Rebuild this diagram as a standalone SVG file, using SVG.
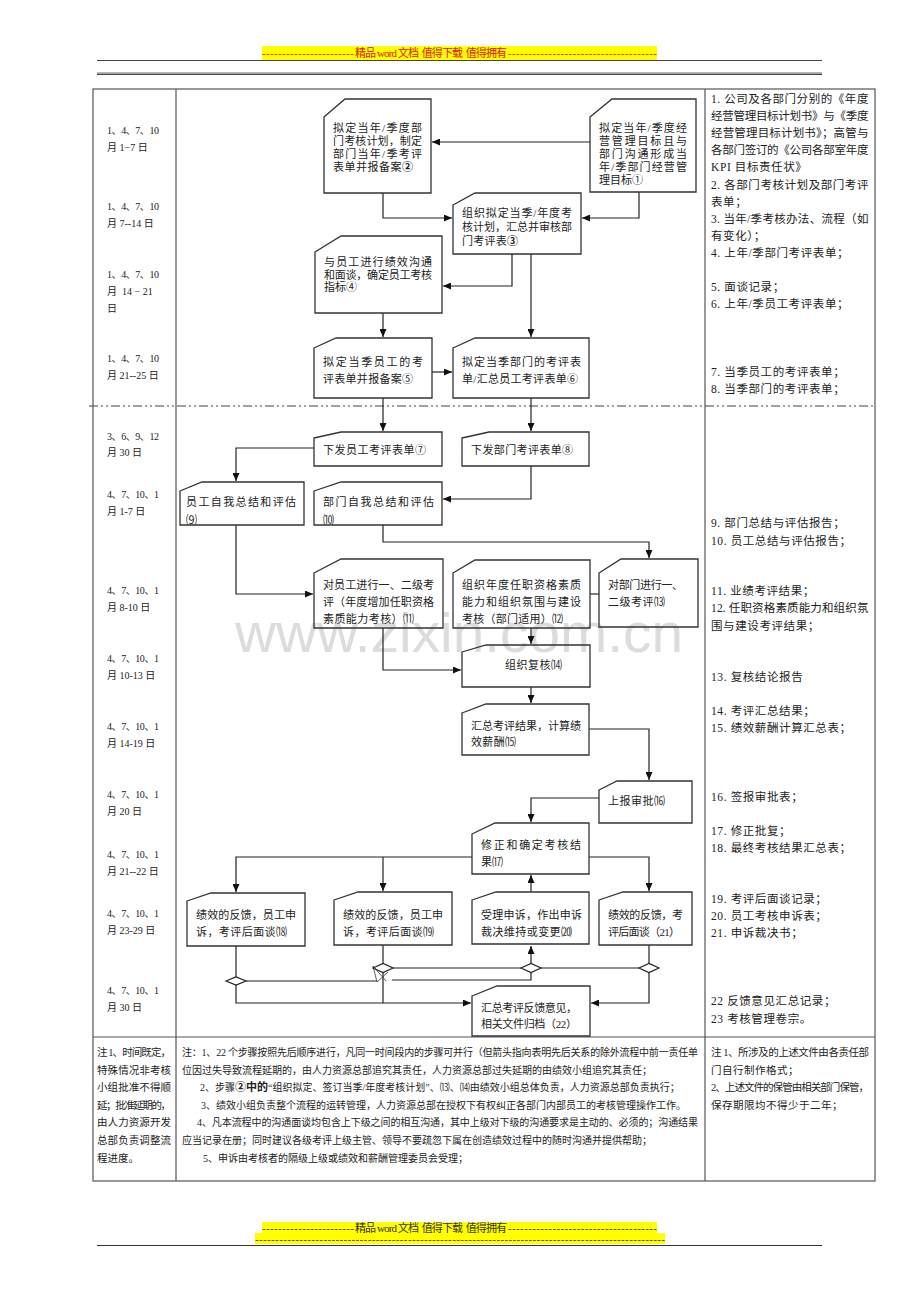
<svg xmlns="http://www.w3.org/2000/svg" width="920" height="1302" viewBox="0 0 920 1302">
<style>
.bx{fill:none;stroke:#333;stroke-width:1.3}
.cn{fill:none;stroke:#222;stroke-width:1.2}
.tl{fill:none;stroke:#555;stroke-width:1.2}
.t{font-family:"Liberation Serif","Noto Sans CJK SC",serif;font-size:11px;fill:#222}
.lc{font-family:"Liberation Serif","Noto Sans CJK SC",serif;font-size:10px;fill:#222}
.rc{font-family:"Liberation Serif","Noto Sans CJK SC",serif;font-size:11.5px;fill:#222;letter-spacing:0.6px}
.ft{font-family:"Liberation Serif","Noto Sans CJK SC",serif;font-size:10.5px;fill:#222}
.fm{font-family:"Liberation Serif","Noto Sans CJK SC",serif;font-size:10px;fill:#222}
.hd{font-family:"Liberation Serif","Noto Sans CJK SC",serif;font-size:11px}
.wm{font-family:"Liberation Sans",Arial,sans-serif;font-size:56px;fill:#dcdcdc}
</style>
<defs>
<marker id="ah" markerUnits="userSpaceOnUse" markerWidth="8" markerHeight="7" refX="8" refY="3.5" orient="auto">
<path d="M0,0 L8,3.5 L0,7 Z" fill="#111"/>
</marker>
<clipPath id="c9"><rect x="180" y="482" width="124" height="43"/></clipPath>
<clipPath id="c10"><rect x="314" y="482" width="128" height="43"/></clipPath>
</defs>
<rect width="920" height="1302" fill="#fff"/>

<g id="header-top">
<rect x="262" y="46" width="395" height="14" fill="#ffff00"/>
<text class="hd" x="262" y="57" fill="#e01010" textLength="92" lengthAdjust="spacing">-----------------------</text>
<text class="hd" x="355" y="57" fill="#e01010" textLength="152" lengthAdjust="spacing" xml:space="preserve">精品 word 文档  值得下载  值得拥有</text>
<text class="hd" x="508" y="57" fill="#e01010" textLength="149" lengthAdjust="spacing">-------------------------------------</text>
<line x1="97" y1="60.5" x2="822" y2="60.5" stroke="#444" stroke-width="1"/>
<rect x="97" y="72.3" width="725" height="1.6" fill="#999"/>
<line x1="97" y1="74.5" x2="822" y2="74.5" stroke="#444" stroke-width="1"/>
</g>

<text class="wm" x="235" y="652" textLength="448" lengthAdjust="spacingAndGlyphs">www.zixin.com.cn</text>

<g id="table">
<rect class="tl" x="93" y="89" width="782" height="1092"/>
<line class="tl" x1="176" y1="89" x2="176" y2="1181"/>
<line class="tl" x1="705" y1="89" x2="705" y2="1181"/>
<line class="tl" x1="93" y1="1037" x2="875" y2="1037"/>
<line x1="89" y1="406" x2="875" y2="406" stroke="#444" stroke-width="1.2" stroke-dasharray="9 3 2 3 2 3"/>
</g>

<g id="left-column">
<text class="lc" x="107" y="134" textLength="52" lengthAdjust="spacing">1、4、7、10</text>
<text class="lc" x="107" y="151">月 1−7 日</text>
<text class="lc" x="107" y="210" textLength="52" lengthAdjust="spacing">1、4、7、10</text>
<text class="lc" x="107" y="227">月 7--14 日</text>
<text class="lc" x="107" y="278" textLength="52" lengthAdjust="spacing">1、4、7、10</text>
<text class="lc" x="107" y="295" xml:space="preserve">月  14 − 21</text>
<text class="lc" x="107" y="312">日</text>
<text class="lc" x="107" y="362" textLength="52" lengthAdjust="spacing">1、4、7、10</text>
<text class="lc" x="107" y="379">月 21--25 日</text>
<text class="lc" x="107" y="440" textLength="52" lengthAdjust="spacing">3、6、9、12</text>
<text class="lc" x="107" y="456">月 30 日</text>
<text class="lc" x="107" y="498" textLength="52" lengthAdjust="spacing">4、7、10、1</text>
<text class="lc" x="107" y="515">月 1-7 日</text>
<text class="lc" x="107" y="594" textLength="52" lengthAdjust="spacing">4、7、10、1</text>
<text class="lc" x="107" y="611">月 8-10 日</text>
<text class="lc" x="107" y="662" textLength="52" lengthAdjust="spacing">4、7、10、1</text>
<text class="lc" x="107" y="679">月 10-13 日</text>
<text class="lc" x="107" y="730" textLength="52" lengthAdjust="spacing">4、7、10、1</text>
<text class="lc" x="107" y="747">月 14-19 日</text>
<text class="lc" x="107" y="798" textLength="52" lengthAdjust="spacing">4、7、10、1</text>
<text class="lc" x="107" y="815">月 20 日</text>
<text class="lc" x="107" y="858" textLength="52" lengthAdjust="spacing">4、7、10、1</text>
<text class="lc" x="107" y="875">月 21--22 日</text>
<text class="lc" x="107" y="917" textLength="52" lengthAdjust="spacing">4、7、10、1</text>
<text class="lc" x="107" y="934">月 23-29 日</text>
<text class="lc" x="107" y="994" textLength="52" lengthAdjust="spacing">4、7、10、1</text>
<text class="lc" x="107" y="1011">月 30 日</text>
</g>

<g id="right-column">
<text class="rc" x="711" y="103" textLength="158" lengthAdjust="spacing">1. 公司及各部门分别的《年度</text>
<text class="rc" x="711" y="120" textLength="158" lengthAdjust="spacing">经营管理目标计划书》与《季度</text>
<text class="rc" x="711" y="137" textLength="158" lengthAdjust="spacing">经营管理目标计划书》；高管与</text>
<text class="rc" x="711" y="154" textLength="158" lengthAdjust="spacing">各部门签订的《公司各部室年度</text>
<text class="rc" x="711" y="171" letter-spacing="0">KPI 目标责任状》</text>
<text class="rc" x="711" y="189" textLength="158" lengthAdjust="spacing">2. 各部门考核计划及部门考评</text>
<text class="rc" x="711" y="206">表单；</text>
<text class="rc" x="711" y="223" textLength="158" lengthAdjust="spacing">3. 当年/季考核办法、流程（如</text>
<text class="rc" x="711" y="240">有变化）；</text>
<text class="rc" x="711" y="257">4. 上年/季部门考评表单；</text>
<text class="rc" x="711" y="291">5. 面谈记录；</text>
<text class="rc" x="711" y="308">6. 上年/季员工考评表单；</text>
<text class="rc" x="711" y="376">7. 当季员工的考评表单；</text>
<text class="rc" x="711" y="393">8. 当季部门的考评表单；</text>
<text class="rc" x="711" y="527">9. 部门总结与评估报告；</text>
<text class="rc" x="711" y="545">10. 员工总结与评估报告；</text>
<text class="rc" x="711" y="595">11. 业绩考评结果；</text>
<text class="rc" x="711" y="612" textLength="158" lengthAdjust="spacing">12. 任职资格素质能力和组织氛</text>
<text class="rc" x="711" y="630">围与建设考评结果；</text>
<text class="rc" x="711" y="681">13. 复核结论报告</text>
<text class="rc" x="711" y="715">14. 考评汇总结果；</text>
<text class="rc" x="711" y="732">15. 绩效薪酬计算汇总表；</text>
<text class="rc" x="711" y="801">16. 签报审批表；</text>
<text class="rc" x="711" y="835">17. 修正批复；</text>
<text class="rc" x="711" y="852">18. 最终考核结果汇总表；</text>
<text class="rc" x="711" y="903">19. 考评后面谈记录；</text>
<text class="rc" x="711" y="920">20. 员工考核申诉表；</text>
<text class="rc" x="711" y="937">21. 申诉裁决书；</text>
<text class="rc" x="711" y="1005" letter-spacing="0.3">22 反馈意见汇总记录；</text>
<text class="rc" x="711" y="1023" letter-spacing="0.3">23 考核管理卷宗。</text>
</g>

<g id="connectors">
<path class="cn" d="M590,142 H432" marker-end="url(#ah)"/>
<path class="cn" d="M383,193 V218 H452" marker-end="url(#ah)"/>
<path class="cn" d="M639,192 V218 H582" marker-end="url(#ah)"/>
<path class="cn" d="M512,254 V286 H443" marker-end="url(#ah)"/>
<path class="cn" d="M531,254 V337" marker-end="url(#ah)"/>
<path class="cn" d="M383,313 V337" marker-end="url(#ah)"/>
<path class="cn" d="M432,372 H452" marker-end="url(#ah)"/>
<path class="cn" d="M383,398 V431" marker-end="url(#ah)"/>
<path class="cn" d="M531,398 V431" marker-end="url(#ah)"/>
<path class="cn" d="M314,448 H236 V481" marker-end="url(#ah)"/>
<path class="cn" d="M531,466 V499 H443" marker-end="url(#ah)"/>
<path class="cn" d="M383,525 V542 H649 V558" marker-end="url(#ah)"/>
<path class="cn" d="M236,525 V594 H313" marker-end="url(#ah)"/>
<path class="cn" d="M590,594 H599"/>
<path class="cn" d="M531,628 V644" marker-end="url(#ah)"/>
<path class="cn" d="M383,628 V670 H461" marker-end="url(#ah)"/>
<path class="cn" d="M531,687 V703" marker-end="url(#ah)"/>
<path class="cn" d="M589,729 H649 V780" marker-end="url(#ah)"/>
<path class="cn" d="M599,798 H531 V822" marker-end="url(#ah)"/>
<path class="cn" d="M472,857 H236 V892" marker-end="url(#ah)"/>
<path class="cn" d="M383,857 V891" marker-end="url(#ah)"/>
<path class="cn" d="M589,857 H649 V891" marker-end="url(#ah)"/>
<path class="cn" d="M531,892 V875" marker-end="url(#ah)"/>
<path class="cn" d="M236,946 V977"/>
<path class="cn" d="M236,985 V1003 H471" marker-end="url(#ah)"/>
<path class="cn" d="M246,981 H377"/>
<path class="cn" d="M383,945 V963"/>
<path class="cn" d="M383,972 V1003"/>
<path class="cn" d="M393,968 H521"/>
<path class="cn" d="M531,963 V946" marker-end="url(#ah)"/>
<path class="cn" d="M541,968 H639"/>
<path class="cn" d="M649,945 V963"/>
<path class="cn" d="M649,972 V1003 H591" marker-end="url(#ah)"/>
<path class="cn" d="M392,980 H531 V973"/>
<path fill="none" stroke="#333" stroke-width="0.8" d="M373,966 L386,981 M373,966 L377,982 M377,982 L388,972"/>
<path class="cn" fill="#fff" d="M226,981 L236,977 L246,981 L236,985 Z"/>
<path class="cn" fill="#fff" d="M373,968 L383,963.5 L393,968 L383,972.5 Z"/>
<path class="cn" fill="#fff" d="M521,968 L531,963.5 L541,968 L531,972.5 Z"/>
<path class="cn" fill="#fff" d="M639,968 L649,963.5 L659,968 L649,972.5 Z"/>
</g>

<g id="n1">
<path class="bx" d="M590,117 L612,99 H696 V192 H590 Z"/>
<text class="t" x="599" y="132" textLength="88" lengthAdjust="spacing">拟定当年/季度经</text>
<text class="t" x="599" y="145" textLength="88" lengthAdjust="spacing">营管理目标且与</text>
<text class="t" x="599" y="158" textLength="88" lengthAdjust="spacing">部门沟通形成当</text>
<text class="t" x="599" y="171" textLength="88" lengthAdjust="spacing">年/季部门经营管</text>
<text class="t" x="599" y="184" textLength="44" lengthAdjust="spacing">理目标①</text>
</g>
<g id="n2">
<path class="bx" d="M324,117 L345,99 H431 V193 H324 Z"/>
<text class="t" x="333" y="132" textLength="89" lengthAdjust="spacing">拟定当年/季度部</text>
<text class="t" x="333" y="145" textLength="89" lengthAdjust="spacing">门考核计划，制定</text>
<text class="t" x="333" y="158" textLength="89" lengthAdjust="spacing">部门当年/季考评</text>
<text class="t" x="333" y="171" textLength="80" lengthAdjust="spacing">表单并报备案<tspan font-weight="bold">②</tspan></text>
</g>
<g id="n3">
<path class="bx" d="M453,205 L475,193 H581 V254 H453 Z"/>
<text class="t" x="462" y="217" textLength="110" lengthAdjust="spacing">组织拟定当季/年度考</text>
<text class="t" x="462" y="231" textLength="110" lengthAdjust="spacing">核计划，汇总并审核部</text>
<text class="t" x="462" y="245" textLength="56" lengthAdjust="spacing">门考评表<tspan font-weight="bold">③</tspan></text>
</g>
<g id="n4">
<path class="bx" d="M315,252 L341,236 H442 V313 H315 Z"/>
<text class="t" x="324" y="266" textLength="108" lengthAdjust="spacing">与员工进行绩效沟通</text>
<text class="t" x="324" y="279" textLength="108" lengthAdjust="spacing">和面谈，确定员工考核</text>
<text class="t" x="324" y="291" textLength="33" lengthAdjust="spacing">指标④</text>
</g>
<g id="n5">
<path class="bx" d="M314,348 L336,338 H432 V398 H314 Z"/>
<text class="t" x="323" y="366" textLength="100" lengthAdjust="spacing">拟定当季员工的考</text>
<text class="t" x="323" y="383" textLength="90" lengthAdjust="spacing">评表单并报备案⑤</text>
</g>
<g id="n6">
<path class="bx" d="M453,348 L475,338 H589 V398 H453 Z"/>
<text class="t" x="462" y="366" textLength="119" lengthAdjust="spacing">拟定当季部门的考评表</text>
<text class="t" x="462" y="383" textLength="116" lengthAdjust="spacing">单/汇总员工考评表单⑥</text>
</g>
<g id="n7">
<path class="bx" d="M314,438 L341,432 H442 V466 H314 Z"/>
<text class="t" x="323" y="454" textLength="103" lengthAdjust="spacing">下发员工考评表单⑦</text>
</g>
<g id="n8">
<path class="bx" d="M462,438 L489,432 H589 V466 H462 Z"/>
<text class="t" x="471" y="454" textLength="102" lengthAdjust="spacing">下发部门考评表单⑧</text>
</g>
<g id="n9">
<path class="bx" d="M180,491 L202,482 H304 V525 H180 Z"/>
<text class="t" x="186" y="506" textLength="110" lengthAdjust="spacing">员工自我总结和评估</text>
<text class="t" x="186" y="524" clip-path="url(#c9)">⑼</text>
</g>
<g id="n10">
<path class="bx" d="M314,491 L341,482 H442 V525 H314 Z"/>
<text class="t" x="323" y="506" textLength="111" lengthAdjust="spacing">部门自我总结和评估</text>
<text class="t" x="323" y="524" clip-path="url(#c10)">⑽</text>
</g>
<g id="n11">
<path class="bx" d="M314,573 L341,559 H443 V628 H314 Z"/>
<text class="t" x="323" y="589" textLength="111" lengthAdjust="spacing">对员工进行一、二级考</text>
<text class="t" x="323" y="606" textLength="111" lengthAdjust="spacing">评（年度增加任职资格</text>
<text class="t" x="323" y="623" textLength="91" lengthAdjust="spacing">素质能力考核）⑾</text>
</g>
<g id="n12">
<path class="bx" d="M453,573 L475,560 H590 V628 H453 Z"/>
<text class="t" x="462" y="589" textLength="119" lengthAdjust="spacing">组织年度任职资格素质</text>
<text class="t" x="462" y="606" textLength="119" lengthAdjust="spacing">能力和组织氛围与建设</text>
<text class="t" x="462" y="623" textLength="101" lengthAdjust="spacing">考核（部门适用）⑿</text>
</g>
<g id="n13">
<path class="bx" d="M599,573 L621,559 H698 V627 H599 Z"/>
<text class="t" x="608" y="589" textLength="75" lengthAdjust="spacing">对部门进行一、</text>
<text class="t" x="608" y="606" textLength="57" lengthAdjust="spacing">二级考评⒀</text>
</g>
<g id="n14">
<path class="bx" d="M462,652 L486,645 H590 V687 H462 Z"/>
<text class="t" x="505" y="669" textLength="57" lengthAdjust="spacing">组织复核⒁</text>
</g>
<g id="n15">
<path class="bx" d="M462,713 L486,704 H589 V755 H462 Z"/>
<text class="t" x="471" y="730" textLength="110" lengthAdjust="spacing">汇总考评结果，计算绩</text>
<text class="t" x="471" y="746" textLength="45" lengthAdjust="spacing">效薪酬⒂</text>
</g>
<g id="n16">
<path class="bx" d="M599,790 L617,781 H692 V823 H599 Z"/>
<text class="t" x="608" y="805" textLength="57" lengthAdjust="spacing">上报审批⒃</text>
</g>
<g id="n17">
<path class="bx" d="M472,834 L495,823 H589 V874 H472 Z"/>
<text class="t" x="481" y="849" textLength="100" lengthAdjust="spacing">修正和确定考核结</text>
<text class="t" x="481" y="866">果⒄</text>
</g>
<g id="n18">
<path class="bx" d="M187,901 L211,893 H305 V946 H187 Z"/>
<text class="t" x="196" y="919" textLength="100" lengthAdjust="spacing">绩效的反馈，员工申</text>
<text class="t" x="196" y="936" textLength="91" lengthAdjust="spacing">诉，考评后面谈⒅</text>
</g>
<g id="n19">
<path class="bx" d="M334,900 L358,892 H452 V945 H334 Z"/>
<text class="t" x="343" y="919" textLength="100" lengthAdjust="spacing">绩效的反馈，员工申</text>
<text class="t" x="343" y="936" textLength="91" lengthAdjust="spacing">诉，考评后面谈⒆</text>
</g>
<g id="n20">
<path class="bx" d="M472,900 L496,892 H589 V944 H472 Z"/>
<text class="t" x="481" y="919" textLength="101" lengthAdjust="spacing">受理申诉，作出申诉</text>
<text class="t" x="481" y="936" textLength="91" lengthAdjust="spacing">裁决维持或变更⒇</text>
</g>
<g id="n21">
<path class="bx" d="M599,900 L623,892 H692 V945 H599 Z"/>
<text class="t" x="608" y="919" textLength="75" lengthAdjust="spacing">绩效的反馈，考</text>
<text class="t" x="608" y="936" textLength="72" lengthAdjust="spacing">评后面谈（21）</text>
</g>
<g id="n22">
<path class="bx" d="M472,996 L497,986 H590 V1036 H472 Z"/>
<text class="t" x="481" y="1012" textLength="96" lengthAdjust="spacing">汇总考评反馈意见，</text>
<text class="t" x="481" y="1028" textLength="96" lengthAdjust="spacing">相关文件归档（22）</text>
</g>

<g id="footer-notes">
<text class="ft" x="97" y="1056" textLength="74" lengthAdjust="spacing">注 1、时间既定，</text>
<text class="ft" x="97" y="1074" textLength="74" lengthAdjust="spacing">特殊情况非考核</text>
<text class="ft" x="97" y="1091" textLength="74" lengthAdjust="spacing">小组批准不得顺</text>
<text class="ft" x="97" y="1109" textLength="74" lengthAdjust="spacing">延；批准延期的，</text>
<text class="ft" x="97" y="1126" textLength="74" lengthAdjust="spacing">由人力资源开发</text>
<text class="ft" x="97" y="1144" textLength="74" lengthAdjust="spacing">总部负责调整流</text>
<text class="ft" x="97" y="1162">程进度。</text>

<text class="fm" x="182" y="1056" textLength="516" lengthAdjust="spacing">注：1、22 个步骤按照先后顺序进行，凡同一时间段内的步骤可并行（但箭头指向表明先后关系的除外流程中前一责任单</text>
<text class="fm" x="182" y="1074">位因过失导致流程延期的，由人力资源总部追究其责任，人力资源总部过失延期的由绩效小组追究其责任；</text>
<text class="fm" x="200" y="1091">2、步骤<tspan font-weight="bold" font-size="11px">②中的</tspan>“组织拟定、签订当季/年度考核计划”、⒀、⒁由绩效小组总体负责，人力资源总部负责执行；</text>
<text class="fm" x="201" y="1109">3、绩效小组负责整个流程的运转管理，人力资源总部在授权下有权纠正各部门内部员工的考核管理操作工作。</text>
<text class="fm" x="197" y="1126" textLength="501" lengthAdjust="spacing">4、凡本流程中的沟通面谈均包含上下级之间的相互沟通，其中上级对下级的沟通要求是主动的、必须的；沟通结果</text>
<text class="fm" x="182" y="1144">应当记录在册；同时建议各级考评上级主管、领导不要疏忽下属在创造绩效过程中的随时沟通并提供帮助；</text>
<text class="fm" x="203" y="1162">5、申诉由考核者的隔级上级或绩效和薪酬管理委员会受理；</text>

<text class="ft" x="711" y="1056" textLength="158" lengthAdjust="spacing">注 1、所涉及的上述文件由各责任部</text>
<text class="ft" x="711" y="1074" letter-spacing="0.5">门自行制作格式；</text>
<text class="ft" x="711" y="1091" textLength="158" lengthAdjust="spacing">2、上述文件的保管由相关部门保管，</text>
<text class="ft" x="711" y="1109" letter-spacing="0.5">保存期限均不得少于二年；</text>
</g>

<g id="header-bottom">
<rect x="262" y="1222" width="395" height="11" fill="#ffff00"/>
<rect x="255" y="1233" width="410" height="11" fill="#ffff00"/>
<text class="hd" x="262" y="1232" fill="#333" textLength="92" lengthAdjust="spacing">-----------------------</text>
<text class="hd" x="355" y="1232" fill="#333" textLength="152" lengthAdjust="spacing" xml:space="preserve">精品 word 文档  值得下载  值得拥有</text>
<text class="hd" x="508" y="1232" fill="#333" textLength="149" lengthAdjust="spacing">-------------------------------------</text>
<text class="hd" x="255" y="1243" fill="#333" textLength="410" lengthAdjust="spacing">------------------------------------------------------------------------------------------------------</text>
<line x1="97" y1="1245.5" x2="822" y2="1245.5" stroke="#333" stroke-width="1"/>
</g>
</svg>
